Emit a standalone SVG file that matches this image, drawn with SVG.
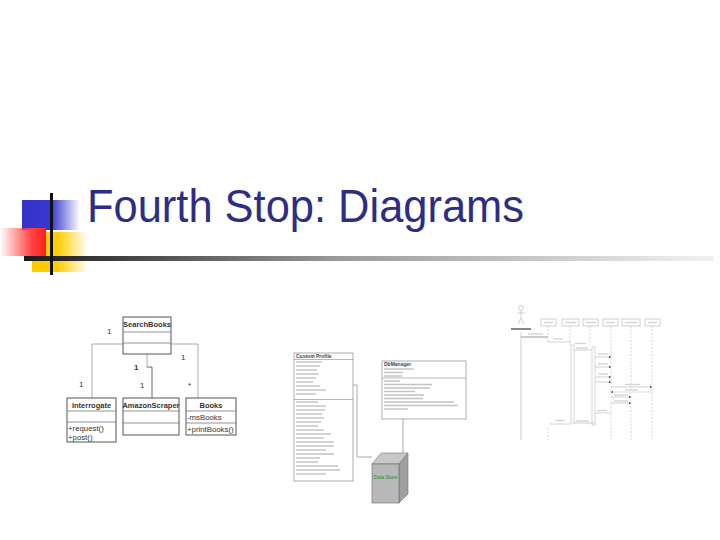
<svg xmlns="http://www.w3.org/2000/svg" width="720" height="540" viewBox="0 0 720 540">
<defs>
<linearGradient id="gBlue" x1="0" y1="0" x2="1" y2="0"><stop offset="0" stop-color="#3333cc"/><stop offset="0.5" stop-color="#3838cc"/><stop offset="1" stop-color="#3333cc" stop-opacity="0"/></linearGradient>
<linearGradient id="gRed" x1="1" y1="0" x2="0" y2="0"><stop offset="0" stop-color="#ff2020"/><stop offset="0.3" stop-color="#ff4040"/><stop offset="1" stop-color="#ff4040" stop-opacity="0"/></linearGradient>
<linearGradient id="gYellow" x1="0" y1="0" x2="1" y2="0"><stop offset="0" stop-color="#ffcc00"/><stop offset="0.45" stop-color="#ffcc00"/><stop offset="1" stop-color="#ffcc00" stop-opacity="0"/></linearGradient>
<linearGradient id="gBar" x1="0" y1="0" x2="1" y2="0"><stop offset="0" stop-color="#1a1a1a"/><stop offset="0.45" stop-color="#999"/><stop offset="1" stop-color="#f2f2f2"/></linearGradient>
<marker id="ah" viewBox="0 0 6 6" refX="6" refY="3" markerWidth="3" markerHeight="3" orient="auto"><path d="M0,0L6,3L0,6z" fill="#222"/></marker>
</defs>
<style>
.title{font-family:"Liberation Sans","DejaVu Sans",sans-serif;font-size:46px;fill:#2d2d86}
.cls{fill:#fff;stroke:#555;stroke-width:1}
.sep{stroke:#777;stroke-width:0.8}
.nm{font-family:"Liberation Sans",Arial,sans-serif;font-size:7.5px;font-weight:bold;fill:#333;text-anchor:middle}
.tx{font-family:"Liberation Sans",Arial,sans-serif;font-size:7.8px;fill:#333}
.mul{font-family:"Liberation Sans",Arial,sans-serif;font-size:8px;fill:#333}
.assoc{fill:none;stroke:#aaa;stroke-width:1}
.assocd{fill:none;stroke:#666;stroke-width:1}
.tl{stroke:#c2c2c2;stroke-width:1.4}
.box2{fill:#fff;stroke:#999;stroke-width:0.8}
.sm{font-family:"Liberation Sans",Arial,sans-serif;font-size:5px;font-weight:bold;fill:#444}
.seq{fill:#fff;stroke:#bbb;stroke-width:0.7}
.ll{stroke:#c4c4c4;stroke-width:0.7;stroke-dasharray:2,1.5}
.msg{stroke:#bbb;stroke-width:0.7}
.lab{stroke:#d4d4d4;stroke-width:1.4}
</style>
<rect width="720" height="540" fill="#fff"/>
<g id="decoration">
<rect x="22" y="200" width="58" height="30" fill="url(#gBlue)"/>
<rect x="32" y="232" width="56" height="40" fill="url(#gYellow)"/>
<rect x="0" y="228" width="46" height="28" fill="url(#gRed)"/>
<rect x="24" y="256" width="690" height="5" fill="url(#gBar)"/>
<rect x="50" y="193" width="3" height="82" fill="#111"/>
</g>
<text class="title" x="87" y="222" textLength="437" lengthAdjust="spacingAndGlyphs">Fourth Stop: Diagrams</text>

<g id="connectors">
<path class="assoc" d="M123,344 H92 V398"/>
<path class="assoc" d="M171,344 H198 V398"/>
<path class="assoc" d="M147,354 V367"/>
<path class="assocd" d="M147,367 H152 V398"/>
<path class="assoc" d="M353,385 H357 V457 H372"/>
<path class="assoc" d="M403,419 V453"/>
</g>

<g id="SearchBooks">
<rect class="cls" x="123" y="317" width="48" height="37"/>
<line class="sep" x1="123" y1="332" x2="171" y2="332"/>
<line class="sep" x1="123" y1="343" x2="171" y2="343"/>
<text class="nm" x="147" y="327">SearchBooks</text>
</g>
<g id="multiplicities">
<text class="mul" x="107" y="334">1</text>
<text class="mul" x="134" y="370" font-weight="bold">1</text>
<text class="mul" x="181" y="360">1</text>
<text class="mul" x="79" y="387">1</text>
<text class="mul" x="140" y="388">1</text>
<text class="mul" x="188" y="388">*</text>
</g>
<g id="Interrogate">
<rect class="cls" x="67" y="398" width="49" height="44"/>
<line class="sep" x1="67" y1="411" x2="116" y2="411"/>
<line class="sep" x1="67" y1="422" x2="116" y2="422"/>
<text class="nm" x="91.5" y="408">Interrogate</text>
<text class="tx" x="68" y="431">+request()</text>
<text class="tx" x="68" y="440">+post()</text>
</g>
<g id="AmazonScraper">
<rect class="cls" x="123" y="398" width="56" height="37"/>
<line class="sep" x1="123" y1="411" x2="179" y2="411"/>
<line class="sep" x1="123" y1="423" x2="179" y2="423"/>
<text class="nm" x="151" y="408">AmazonScraper</text>
</g>
<g id="Books">
<rect class="cls" x="186" y="398" width="50" height="37"/>
<line class="sep" x1="186" y1="411" x2="236" y2="411"/>
<line class="sep" x1="186" y1="423" x2="236" y2="423"/>
<text class="nm" x="211" y="408">Books</text>
<text class="tx" x="187" y="420">-msBooks</text>
<text class="tx" x="187" y="432">+printBooks()</text>
</g>

<g id="CustomProfile">
<rect class="box2" x="294" y="353" width="59" height="128"/>
<text class="sm" x="296" y="358">Custom Profile</text>
<line x1="294" y1="359.5" x2="353" y2="359.5" stroke="#888" stroke-width="0.6"/>
<line x1="294" y1="399.5" x2="353" y2="399.5" stroke="#888" stroke-width="0.6"/>
<g class="tl">
<line x1="296" y1="362" x2="322" y2="362"/><line x1="296" y1="366" x2="320" y2="366"/><line x1="296" y1="370" x2="317" y2="370"/>
<line x1="296" y1="374" x2="319" y2="374"/><line x1="296" y1="378" x2="316" y2="378"/><line x1="296" y1="382" x2="313" y2="382"/>
<line x1="296" y1="386" x2="320" y2="386"/><line x1="296" y1="390" x2="326" y2="390"/><line x1="296" y1="394" x2="316" y2="394"/>
<line x1="296" y1="402" x2="318" y2="402"/><line x1="296" y1="406" x2="326" y2="406"/><line x1="296" y1="410" x2="325" y2="410"/>
<line x1="296" y1="414" x2="322" y2="414"/><line x1="296" y1="418" x2="324" y2="418"/><line x1="296" y1="422" x2="321" y2="422"/>
<line x1="296" y1="426" x2="318" y2="426"/><line x1="296" y1="430" x2="324" y2="430"/><line x1="296" y1="434" x2="331" y2="434"/>
<line x1="296" y1="438" x2="324" y2="438"/><line x1="296" y1="442" x2="334" y2="442"/><line x1="296" y1="446" x2="334" y2="446"/>
<line x1="296" y1="450" x2="326" y2="450"/><line x1="296" y1="454" x2="334" y2="454"/><line x1="296" y1="458" x2="320" y2="458"/>
<line x1="296" y1="462" x2="318" y2="462"/><line x1="296" y1="466" x2="338" y2="466"/><line x1="296" y1="470" x2="340" y2="470"/>
<line x1="296" y1="474" x2="326" y2="474"/>
</g>
</g>

<g id="DbManager">
<rect class="box2" x="382" y="361" width="84" height="58"/>
<text class="sm" x="384" y="366">DbManager</text>
<line x1="382" y1="378" x2="466" y2="378" stroke="#888" stroke-width="0.6"/>
<g class="tl">
<line x1="384" y1="369" x2="414" y2="369"/><line x1="384" y1="372.5" x2="403" y2="372.5"/><line x1="384" y1="376" x2="402" y2="376"/>
<line x1="384" y1="381" x2="400" y2="381"/><line x1="384" y1="384.5" x2="432" y2="384.5"/><line x1="384" y1="388" x2="430" y2="388"/>
<line x1="384" y1="391.5" x2="415" y2="391.5"/><line x1="384" y1="395" x2="424" y2="395"/><line x1="384" y1="398.5" x2="423" y2="398.5"/>
<line x1="384" y1="402" x2="454" y2="402"/><line x1="384" y1="405.5" x2="458" y2="405.5"/><line x1="384" y1="409" x2="408" y2="409"/>
</g>
</g>

<g id="DataStore">
<polygon points="372,464 381,453 408,453 399,464" fill="#c8c8c8" stroke="#777" stroke-width="0.6"/>
<polygon points="399,464 408,453 408,494 399,503" fill="#a0a0a0" stroke="#777" stroke-width="0.6"/>
<rect x="372" y="464" width="27" height="39" fill="#b8b8b8" stroke="#666" stroke-width="0.6"/>
<text x="385.5" y="479" font-family="Liberation Sans, Arial, sans-serif" font-size="5px" fill="#2a8a2a" text-anchor="middle">Data Store</text>
</g>

<g id="SequenceDiagram">
<g id="actor" stroke="#bbb" stroke-width="0.7" fill="none">
<circle cx="521" cy="308" r="2.5"/>
<line x1="521" y1="310" x2="521" y2="318"/>
<line x1="517" y1="313" x2="525" y2="313"/>
<line x1="521" y1="318" x2="518" y2="324"/>
<line x1="521" y1="318" x2="524" y2="324"/>
</g>
<line x1="511" y1="329" x2="531" y2="329" stroke="#555" stroke-width="1.4"/>
<line x1="521" y1="332" x2="521" y2="440" stroke="#bbb" stroke-width="0.7"/>
<rect class="seq" x="541" y="319" width="15" height="7"/>
<rect class="seq" x="562" y="319" width="17" height="7"/>
<rect class="seq" x="583" y="319" width="15" height="7"/>
<rect class="seq" x="603" y="319" width="15" height="7"/>
<rect class="seq" x="622" y="319" width="18" height="7"/>
<rect class="seq" x="645" y="319" width="15" height="7"/>
<g class="lab">
<line x1="544" y1="322.5" x2="553" y2="322.5"/><line x1="565" y1="322.5" x2="576" y2="322.5"/><line x1="586" y1="322.5" x2="596" y2="322.5"/>
<line x1="606" y1="322.5" x2="615" y2="322.5"/><line x1="625" y1="322.5" x2="637" y2="322.5"/><line x1="648" y1="322.5" x2="657" y2="322.5"/>
</g>
<g class="ll">
<line x1="548" y1="326" x2="548" y2="342"/><line x1="548" y1="428" x2="548" y2="440"/>
<line x1="570" y1="326" x2="570" y2="345"/>
<line x1="590" y1="326" x2="590" y2="347"/>
<line x1="611" y1="326" x2="611" y2="440"/>
<line x1="631" y1="326" x2="631" y2="440"/>
<line x1="652" y1="326" x2="652" y2="440"/>
</g>
<rect x="571" y="345" width="3" height="78" fill="#fff" stroke="#bbb" stroke-width="0.6"/>
<rect x="592" y="347" width="3" height="78" fill="#fff" stroke="#bbb" stroke-width="0.6"/>
<line x1="521" y1="337" x2="548" y2="337" stroke="#999" stroke-width="1"/>
<line x1="548" y1="342" x2="571" y2="342" class="msg"/>
<line x1="574" y1="350" x2="592" y2="350" class="msg"/>
<line x1="595" y1="357" x2="611" y2="357" class="msg" marker-end="url(#ah)"/>
<line x1="595" y1="367" x2="611" y2="367" class="msg" marker-end="url(#ah)"/>
<line x1="595" y1="377" x2="611" y2="377" class="msg" marker-end="url(#ah)"/>
<line x1="595" y1="382" x2="611" y2="382" class="msg" marker-end="url(#ah)"/>
<line x1="611" y1="387" x2="652" y2="387" class="msg" marker-end="url(#ah)"/>
<line x1="652" y1="392" x2="611" y2="392" class="msg" stroke-dasharray="2,1" marker-end="url(#ah)"/>
<line x1="611" y1="397" x2="631" y2="397" class="msg" marker-end="url(#ah)"/>
<line x1="611" y1="403" x2="631" y2="403" class="msg" marker-end="url(#ah)"/>
<line x1="595" y1="413" x2="611" y2="413" class="msg"/>
<line x1="595" y1="423" x2="574" y2="423" class="msg"/>
<line x1="571" y1="424" x2="550" y2="424" class="msg"/>
<g class="lab">
<line x1="528" y1="334" x2="543" y2="334"/><line x1="553" y1="339" x2="563" y2="339"/>
<line x1="575" y1="343.5" x2="586" y2="343.5"/><line x1="576" y1="348" x2="588" y2="348"/>
<line x1="598" y1="354" x2="608" y2="354"/><line x1="598" y1="364" x2="608" y2="364"/>
<line x1="598" y1="374" x2="608" y2="374"/><line x1="625" y1="384.5" x2="640" y2="384.5"/>
<line x1="625" y1="390" x2="638" y2="390"/><line x1="614" y1="395" x2="628" y2="395"/>
<line x1="614" y1="401" x2="628" y2="401"/><line x1="597" y1="410.5" x2="607" y2="410.5"/>
<line x1="576" y1="421" x2="589" y2="421"/><line x1="555" y1="420.5" x2="565" y2="420.5"/>
</g>
</g>
</svg>
